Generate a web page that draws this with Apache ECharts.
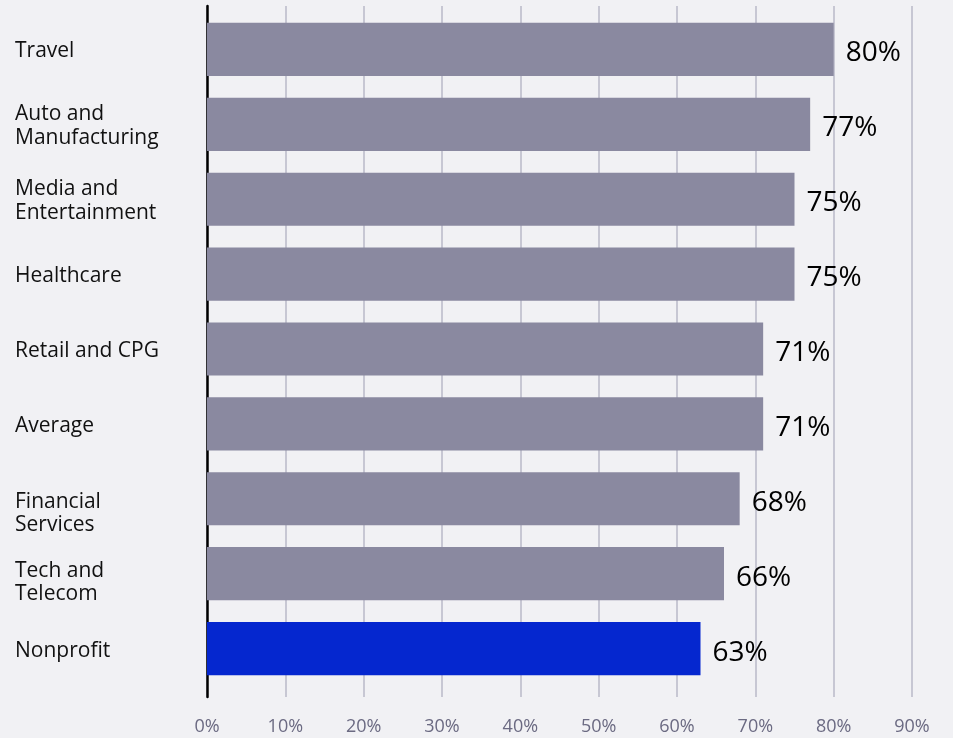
<!DOCTYPE html>
<html>
<head>
<meta charset="utf-8">
<script src="https://cdn.jsdelivr.net/npm/echarts@6/dist/echarts.min.js"></script>
<style>
  html, body { margin: 0; padding: 0; background: #f1f1f4; }
  #chart { width: 953px; height: 738px; }
</style>
</head>
<body>
<div id="chart"></div>
<script>
// Share of respondents by industry (top to bottom)
const categories = [
  'Travel',
  'Auto and\nManufacturing',
  'Media and\nEntertainment',
  'Healthcare',
  'Retail and CPG',
  'Average',
  'Financial\nServices',
  'Tech and\nTelecom',
  'Nonprofit'
];
const values = [80, 77, 75, 75, 71, 71, 68, 66, 63];
const highlighted = ['Nonprofit'];
const xTicks = { min: 0, max: 90, interval: 10 };

const FONT = '"Open Sans", "Noto Sans", sans-serif';
const GRAY = '#8a89a0';
const BLUE = '#0527cf';

// a couple of wrapped labels sit a little lower in their rows
const lowered = { 'Financial\nServices': 'low2', 'Tech and\nTelecom': 'low1' };

const chart = echarts.init(document.getElementById('chart'));

const barData = categories.map((c, i) => ({
  value: values[i],
  itemStyle: { color: highlighted.includes(c) ? BLUE : GRAY }
}));

const labelText = { fontSize: 21, lineHeight: 23, fontFamily: FONT, color: '#111' };

chart.setOption({
  backgroundColor: '#f1f1f4',
  animation: false,
  grid: [
    // frame: gridlines, tick labels and baseline
    { left: 207, right: 41, top: 6, bottom: 41, containLabel: false, outerBoundsMode: 'none' },
    // bars
    { left: 207, right: 41, top: 12, bottom: 52, containLabel: false, outerBoundsMode: 'none' }
  ],
  xAxis: [
    {
      gridIndex: 0, type: 'value',
      min: xTicks.min, max: xTicks.max, interval: xTicks.interval,
      axisLine: { show: false }, axisTick: { show: false },
      splitLine: { show: true, lineStyle: { color: '#b9b8c9', width: 1.5 } },
      axisLabel: {
        formatter: '{value}%', color: '#6b6a82', fontSize: 18,
        fontFamily: FONT, margin: 21
      }
    },
    {
      gridIndex: 1, type: 'value',
      min: xTicks.min, max: xTicks.max, interval: xTicks.interval,
      show: false
    }
  ],
  yAxis: [
    {
      gridIndex: 0, type: 'value', min: 0, max: 1,
      axisLine: { show: true, lineStyle: { color: '#000', width: 2.5 } },
      axisTick: { show: false }, axisLabel: { show: false },
      splitLine: { show: false }
    },
    {
      gridIndex: 1, type: 'category', data: categories, inverse: true,
      axisLine: { show: false }, axisTick: { show: false },
      splitLine: { show: false },
      axisLabel: {
        align: 'left', margin: 192, color: '#111', fontSize: 21,
        lineHeight: 24, fontFamily: FONT, padding: [4, 0, 0, 0],
        formatter: v => {
          const key = lowered[v] || 't';
          return v.split('\n').map(line => `{${key}|${line}}`).join('\n');
        },
        rich: {
          t: Object.assign({}, labelText, { lineHeight: 24 }),
          low1: Object.assign({}, labelText, { padding: [14, 0, 0, 0] }),
          low2: Object.assign({}, labelText, { padding: [26, 0, 0, 0] })
        }
      }
    }
  ],
  series: [{
    type: 'bar',
    xAxisIndex: 1, yAxisIndex: 1,
    data: barData,
    barWidth: '71%',
    label: {
      show: true, position: 'right', distance: 12,
      formatter: '{c}%', color: '#000', fontSize: 28,
      fontFamily: FONT, offset: [0, 4]
    }
  }]
});
</script>
</body>
</html>
